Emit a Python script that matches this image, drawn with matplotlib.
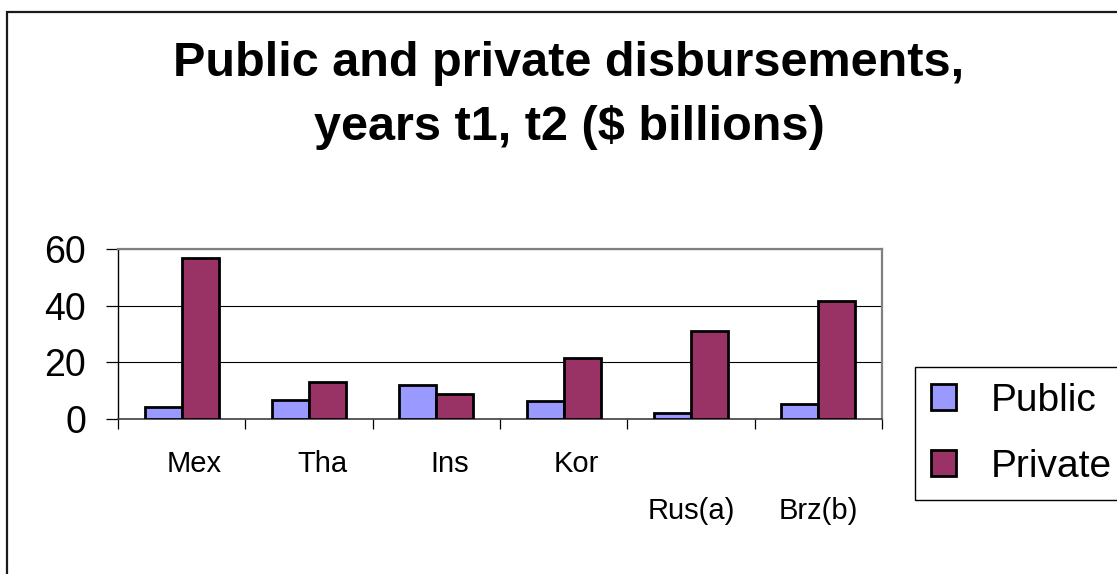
"""
Public and private disbursements chart, Excel-style clustered bars.
"""

import matplotlib
matplotlib.use("Agg")
import matplotlib.pyplot as plt
from matplotlib.patches import Rectangle
import numpy as np

plt.rcParams["font.family"] = ["Liberation Sans", "DejaVu Sans"]

TITLE_LINES = ["Public and private disbursements,", "years t1, t2 ($ billions)"]

categories = ["Mex", "Tha", "Ins", "Kor", "Rus(a)", "Brz(b)"]
public = [4.3, 6.6, 12.1, 6.5, 2.1, 5.3]
private = [56.7, 13.1, 8.8, 21.4, 31.2, 41.8]
yticks = [0, 20, 40, 60]

PUBLIC_COLOR = "#9999FF"
PRIVATE_COLOR = "#993366"

W, H, DPI = 1117, 574, 100
fig = plt.figure(figsize=(W / DPI, H / DPI), dpi=DPI, facecolor="white")

# ── outer chart border (cut off at right and bottom) ─────────────────────────
fig.patches.append(Rectangle((7 / W, -0.2), 1.5, (H - 12) / H + 0.2,
                             transform=fig.transFigure, fill=False,
                             edgecolor="#1a1a1a", linewidth=1.6))

# ── title ────────────────────────────────────────────────────────────────────
fig.text(569 / W, 1 - 63 / H, TITLE_LINES[0], ha="center", va="center",
         fontsize=35, fontweight="bold")
fig.text(569 / W, 1 - 127 / H, TITLE_LINES[1], ha="center", va="center",
         fontsize=35, fontweight="bold")

# ── plot area ────────────────────────────────────────────────────────────────
ax = fig.add_axes([118 / W, 1 - 419 / H, (882 - 118) / W, (419 - 249) / H])
x = np.arange(len(categories))
bw = 0.29
ax.bar(x - bw / 2, public, width=bw, color=PUBLIC_COLOR, edgecolor="black",
       linewidth=2.0, label="Public", zorder=3)
ax.bar(x + bw / 2, private, width=bw, color=PRIVATE_COLOR, edgecolor="black",
       linewidth=2.0, label="Private", zorder=3)

ax.set_xlim(-0.5, len(categories) - 0.5)
ax.set_ylim(0, 60)
ax.set_yticks(yticks)
ax.tick_params(axis="y", direction="out", length=9, width=0.9,
               labelsize=27, pad=14)
ax.set_xticks(x)
ax.set_xticklabels([])
ax.tick_params(axis="x", which="major", length=0)
ax.set_xticks(np.arange(len(categories) + 1) - 0.5, minor=True)
ax.tick_params(axis="x", which="minor", direction="out", length=7, width=0.9)

ax.set_axisbelow(True)
ax.grid(axis="y", color="black", linewidth=0.8)
ax.spines["top"].set_color("#808080")
ax.spines["right"].set_color("#808080")
ax.spines["top"].set_linewidth(1.6)
ax.spines["right"].set_linewidth(1.6)
ax.spines["left"].set_color("black")
ax.spines["bottom"].set_color("#404040")
ax.spines["left"].set_linewidth(1.0)
ax.spines["bottom"].set_linewidth(1.2)

# category labels: last two drop to a second row, as in the original
for i, lab in enumerate(categories):
    lower = i >= 4
    ax.annotate(lab, xy=(i, 0), xycoords=ax.get_xaxis_transform(),
                xytext=(0 if lower else 13, -92 if lower else -45),
                textcoords="offset pixels", ha="center", va="center",
                fontsize=21)

# ── legend ───────────────────────────────────────────────────────────────────
fig.legend(loc="upper left", bbox_to_anchor=(915 / W, 1 - 367 / H),
           bbox_transform=fig.transFigure, fontsize=28, frameon=True,
           fancybox=False, framealpha=1, edgecolor="black",
           handlelength=0.65, handleheight=0.65, handletextpad=0.9,
           labelspacing=0.78, borderpad=0.4, borderaxespad=0)

plt.savefig("out.png", dpi=DPI, facecolor="white")
plt.close()
